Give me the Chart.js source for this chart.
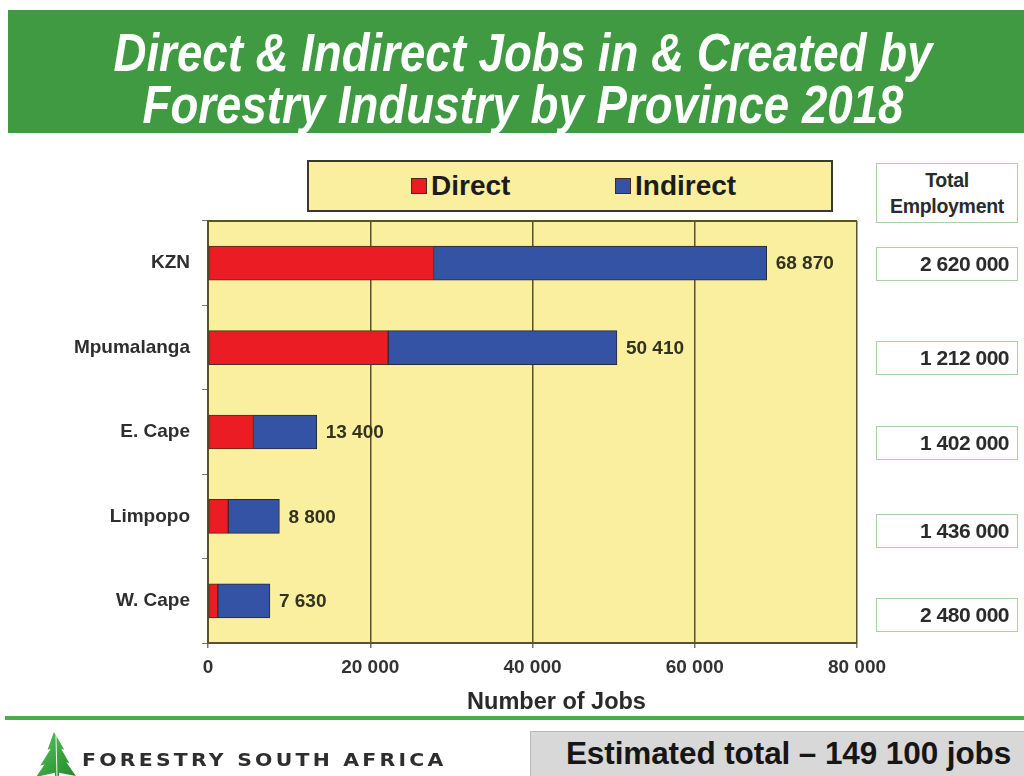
<!DOCTYPE html>
<html>
<head>
<meta charset="utf-8">
<script src="https://cdn.jsdelivr.net/npm/chart.js@4.4.1/dist/chart.umd.min.js"></script>
<style>
  html, body { margin: 0; padding: 0; background: #ffffff; }
  #page { position: relative; width: 1024px; height: 776px; overflow: hidden; font-family: "Liberation Sans", Arial, sans-serif; }
  #chart { position: absolute; left: 0; top: 0; }
  .band { position: absolute; left: 8px; top: 10px; width: 1016px; height: 123px; background: #3f9a41; }
  .title { position: absolute; left: 0; width: 1046px; text-align: center; color: #ffffff; font-weight: bold; font-style: italic; font-size: 54px; line-height: 54px; transform: scaleX(0.845); transform-origin: 523px 0; white-space: nowrap; }
  .legend { position: absolute; left: 307px; top: 160px; width: 522px; height: 48px; background: #f9ef9f; border: 2px solid #3a3a2a; display: flex; align-items: center; }
  .legend .item { position: absolute; top: 0; height: 48px; display: flex; align-items: center; font-weight: bold; font-size: 28px; color: #1c1c1c; }
  .legend .sw { width: 14px; height: 14px; border: 1px solid #4a2a1a; margin-right: 4px; }
  .box { position: absolute; left: 876px; width: 142px; box-sizing: border-box; border: 1.5px solid #a9d3a6; background: #ffffff; color: #2b2b2b; font-weight: bold; }
  .box.head { top: 163px; height: 60px; text-align: center; font-size: 19.5px; line-height: 26px; padding-top: 3px; letter-spacing: -0.3px; }
  .box.val { height: 34px; text-align: right; font-size: 21px; line-height: 32px; padding-right: 8px; letter-spacing: -0.5px; }
  .rule { position: absolute; left: 5px; top: 716px; width: 1019px; height: 4px; background: #4eaa4e; }
  .logo { position: absolute; left: 34px; top: 731px; }
  .org { position: absolute; left: 82px; top: 750px; font-family: "DejaVu Sans", sans-serif; font-weight: bold; font-size: 17px; letter-spacing: 2.7px; color: #2e2e2e; transform: scaleX(1.2); transform-origin: 0 0; white-space: nowrap; }
  .estimate { position: absolute; left: 530px; top: 731px; width: 494px; height: 45px; background: #d8d8d8; border-top: 1.5px solid #b9b9b9; border-left: 1.5px solid #b9b9b9; box-sizing: border-box; padding-left: 22px; text-align: center; font-weight: bold; font-size: 31.5px; line-height: 42px; color: #161616; letter-spacing: -0.1px; white-space: nowrap; }
</style>
</head>
<body>
<div id="page">
  <canvas id="chart" width="1024" height="776"></canvas>
  <div class="band"></div>
  <div class="title" style="top: 25px;">Direct &amp; Indirect Jobs in &amp; Created by</div>
  <div class="title" style="top: 77px;">Forestry Industry by Province 2018</div>
  <div class="legend" id="legend"></div>
  <div class="box head">Total<br>Employment</div>
  <div id="employment"></div>
  <div class="rule"></div>
  <svg class="logo" width="46" height="46" viewBox="0 0 44 44">
    <defs>
      <linearGradient id="tree" x1="0" y1="0" x2="1" y2="1">
        <stop offset="0" stop-color="#5cc25c"/>
        <stop offset="1" stop-color="#1f8a2a"/>
      </linearGradient>
    </defs>
    <polygon points="19,1 13,18 16,17 6,33 10,32 2,44 20,40 20,44 24,44 24,40 40,43 31,30 34,31 26,17 29,18" fill="url(#tree)"/>
    <line x1="21" y1="4" x2="22" y2="44" stroke="#e8f5e8" stroke-width="1"/>
  </svg>
  <div class="org">FORESTRY SOUTH AFRICA</div>
  <div class="estimate">Estimated total – 149 100 jobs</div>
</div>
<script>
// Provinces and job counts (2018)
const provinces = ['KZN', 'Mpumalanga', 'E. Cape', 'Limpopo', 'W. Cape'];
const directJobs = [27800, 22200, 5600, 2500, 1200];
const indirectJobs = [41070, 28210, 7800, 6300, 6430];
const totalEmployment = [2620000, 1212000, 1402000, 1436000, 2480000];
const xTicks = [0, 20000, 40000, 60000, 80000];
const seriesNames = ['Direct', 'Indirect'];
const seriesColors = ['#ec1c24', '#3553a5'];
const xAxisTitle = 'Number of Jobs';

// Numbers with a space as thousands separator: 68 870
function fmt(n) {
  return String(n).replace(/\B(?=(\d{3})+(?!\d))/g, ' ');
}

const FONT = '"Liberation Sans", Arial, sans-serif';
const AXIS_INK = '#57532b';

// Yellow plot background plus top frame line
const plotFrame = {
  id: 'plotFrame',
  beforeDraw(chart) {
    const { ctx, chartArea: a } = chart;
    ctx.save();
    ctx.fillStyle = '#f9ef9f';
    ctx.fillRect(a.left, a.top, a.right - a.left, a.bottom - a.top);
    ctx.restore();
  },
  beforeDatasetsDraw(chart) {
    const { ctx, chartArea: a } = chart;
    ctx.save();
    ctx.strokeStyle = AXIS_INK;
    ctx.lineWidth = 2;
    ctx.beginPath();
    ctx.moveTo(a.left, a.top);
    ctx.lineTo(a.right, a.top);
    ctx.stroke();
    ctx.restore();
  }
};

// Total at the end of each stacked bar, and the x-axis caption
const totalLabels = {
  id: 'totalLabels',
  afterDatasetsDraw(chart) {
    const { ctx } = chart;
    const xs = chart.scales.x;
    const last = chart.getDatasetMeta(chart.data.datasets.length - 1);
    ctx.save();
    ctx.font = 'bold 19px ' + FONT;
    ctx.fillStyle = '#33321f';
    ctx.textAlign = 'left';
    ctx.textBaseline = 'middle';
    provinces.forEach((p, i) => {
      const total = directJobs[i] + indirectJobs[i];
      const x = xs.getPixelForValue(total) + 9;
      const y = last.data[i].y;
      ctx.fillText(fmt(total), x, y + 1);
    });
    ctx.font = 'bold 23.5px ' + FONT;
    ctx.fillStyle = '#2a2a2a';
    ctx.textAlign = 'center';
    ctx.fillText(xAxisTitle, (xs.left + xs.right) / 2 + 24, xs.top + 60);
    ctx.restore();
  }
};

const chart = new Chart(document.getElementById('chart'), {
  type: 'bar',
  data: {
    labels: provinces,
    datasets: [
      { label: seriesNames[0], data: directJobs, backgroundColor: seriesColors[0], borderColor: '#4a3018', borderWidth: 1, borderSkipped: false },
      { label: seriesNames[1], data: indirectJobs, backgroundColor: seriesColors[1], borderColor: '#2a2a30', borderWidth: 1, borderSkipped: false }
    ]
  },
  options: {
    indexAxis: 'y',
    responsive: false,
    animation: false,
    devicePixelRatio: 1,
    barThickness: 34,
    layout: { padding: { left: 0, right: 167, top: 221, bottom: 50 } },
    plugins: {
      legend: { display: false },
      tooltip: { enabled: false }
    },
    scales: {
      x: {
        stacked: true,
        min: 0,
        max: 80000,
        afterBuildTicks(scale) { scale.ticks = xTicks.map(v => ({ value: v })); },
        afterFit(scale) { scale.height = 83; },
        ticks: {
          callback: v => fmt(v),
          font: { family: FONT, size: 19, weight: 'bold' },
          color: '#333333',
          padding: 8,
          maxRotation: 0
        },
        grid: { color: AXIS_INK, lineWidth: 1.5, tickLength: 5, tickColor: '#777766' },
        border: { color: AXIS_INK, width: 2 }
      },
      y: {
        stacked: true,
        afterFit(scale) { scale.width = 208; },
        ticks: {
          font: { family: FONT, size: 19, weight: 'bold' },
          color: '#2e2e2e',
          padding: 12
        },
        grid: { drawOnChartArea: false, tickLength: 6, tickColor: '#777766' },
        border: { color: AXIS_INK, width: 2 }
      }
    }
  },
  plugins: [plotFrame, totalLabels]
});

// Legend built from the chart's datasets
const legend = document.getElementById('legend');
const legendLeft = [102, 306];
chart.data.datasets.forEach((ds, i) => {
  const item = document.createElement('div');
  item.className = 'item';
  item.style.left = legendLeft[i] + 'px';
  const sw = document.createElement('span');
  sw.className = 'sw';
  sw.style.background = ds.backgroundColor;
  item.appendChild(sw);
  item.appendChild(document.createTextNode(ds.label));
  legend.appendChild(item);
});

// Total employment boxes beside each province
const boxTops = [247, 341, 426, 514, 598];
const emp = document.getElementById('employment');
totalEmployment.forEach((v, i) => {
  const b = document.createElement('div');
  b.className = 'box val';
  b.style.top = boxTops[i] + 'px';
  b.textContent = fmt(v);
  emp.appendChild(b);
});
</script>
</body>
</html>
